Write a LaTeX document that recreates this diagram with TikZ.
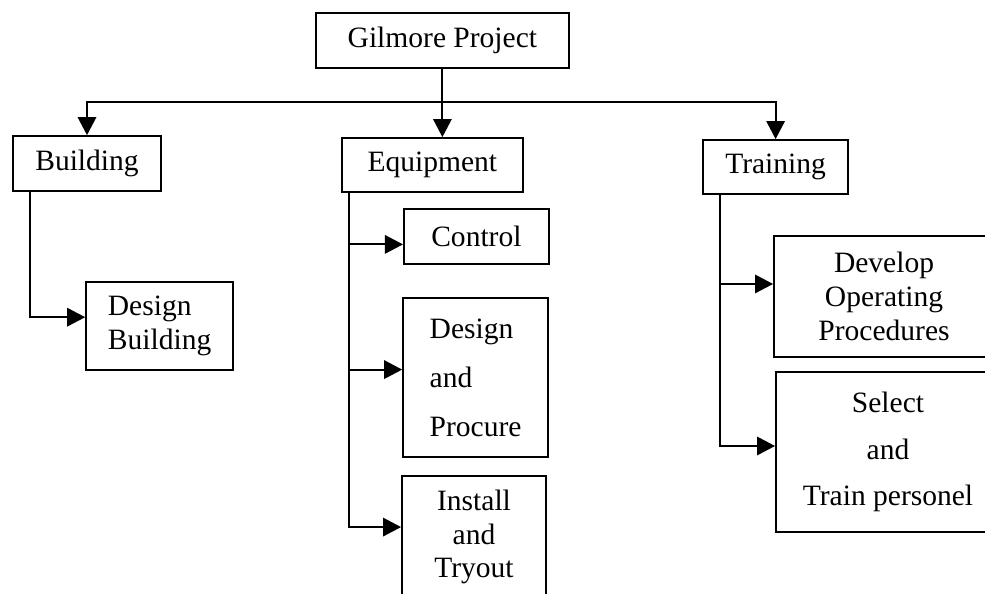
\documentclass[tikz,border=0pt]{standalone}
\usepackage{fontspec}
\setmainfont{Liberation Serif}
\usetikzlibrary{arrows.meta, positioning, calc}

\begin{document}
\begin{tikzpicture}[
    box/.style={draw, line width=1.3pt, inner sep=2pt, font=\fontsize{21}{24}\selectfont},
    arr/.style={line width=1.3pt, -{Triangle[length=0.45cm, width=0.46cm]}}
  ]
  \clip (0, 0) rectangle (24.625, 14.85);

  % Top level
  \node[box, minimum width=6.33cm, minimum height=1.375cm] (gilmore) at (11.06, 13.84) {Gilmore Project};
  \coordinate (bus) at (11.06, 12.3);

  % Second level
  \node[box, minimum width=3.7cm, minimum height=1.375cm] (bldg) at (2.175, 10.76) {Building};
  \node[box, minimum width=4.525cm, minimum height=1.35cm] (equip) at (10.81, 10.725) {Equipment};
  \node[box, minimum width=3.625cm, minimum height=1.35cm] (train) at (19.39, 10.675) {Training};

  % Work packages
  \node[box, align=left, minimum width=3.675cm, minimum height=2.2cm] (dbld) at (3.99, 6.7) {Design\\Building};
  \node[box, minimum width=3.625cm, minimum height=1.375cm] (ctrl) at (11.91, 8.94) {Control};
  \node[box, align=left, minimum width=3.625cm, minimum height=3.975cm] (dproc) at (11.89, 5.41) {Design\\[11pt]and\\[11pt]Procure};
  \node[box, align=center, minimum width=3.6cm, minimum height=3.05cm] (inst) at (11.85, 1.425) {Install\\and\\Tryout};
  \node[box, align=center, minimum width=5.5cm, minimum height=3.025cm] (dev) at (22.1, 7.44) {Develop\\Operating\\Procedures};
  \node[box, align=center, minimum width=5.6cm, minimum height=4.0cm] (sel) at (22.2, 3.55) {Select\\[9pt]and\\[9pt]Train personel};

  % Connectors
  \draw[arr] (gilmore.south) -- (gilmore.south |- equip.north);
  \draw[line width=1.3pt, {Triangle[length=0.45cm, width=0.46cm]}-{Triangle[length=0.45cm, width=0.46cm]}]
    (bldg.north) |- (bus) -| (train.north);

  \draw[arr] ([xshift=0.45cm]bldg.south west) |- ([yshift=0.22cm]dbld.west);

  \coordinate (espine) at ([xshift=0.2cm]equip.south west);
  \draw[arr] (espine) |- ([yshift=-0.2cm]ctrl.west);
  \draw[arr] (espine) |- ([yshift=0.2cm]dproc.west);
  \draw[arr] (espine) |- ([yshift=-1.3cm]inst.north west);

  \coordinate (tspine) at ([xshift=0.45cm]train.south west);
  \draw[arr] (tspine) |- ([yshift=-1.225cm]dev.north west);
  \draw[arr] (tspine) |- ([yshift=0.15cm]sel.west);
\end{tikzpicture}
\end{document}
